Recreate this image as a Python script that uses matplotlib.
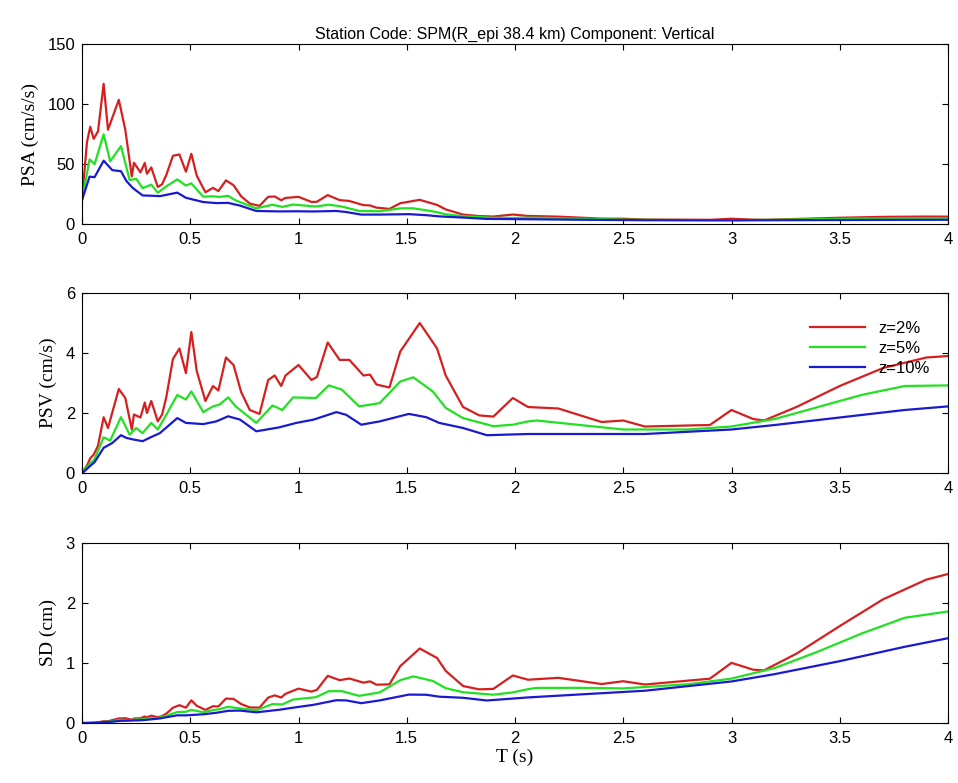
import numpy as np
import matplotlib
matplotlib.use("Agg")
import matplotlib.pyplot as plt

pga = [20.0, 20.0, 20.0]

T_red = [0.023,0.038,0.054,0.074,0.1,0.12,0.17,0.2,0.23,0.24,0.27,0.29,0.30,0.32,0.35,0.37,0.39,0.42,0.45,0.48,0.505,0.53,0.57,0.605,0.63,0.665,0.70,0.735,0.775,0.82,0.86,0.89,0.92,0.94,1.0,1.06,1.085,1.135,1.19,1.235,1.3,1.33,1.36,1.42,1.47,1.56,1.64,1.68,1.76,1.835,1.9,1.99,2.06,2.2,2.4,2.5,2.6,2.9,3.0,3.1,3.15,3.3,3.5,3.7,3.9,4.0]
V_red = [0.25,0.49,0.61,0.91,1.86,1.5,2.8,2.5,1.45,1.95,1.85,2.35,2.0,2.4,1.72,1.95,2.55,3.8,4.15,3.33,4.7,3.4,2.4,2.9,2.75,3.85,3.6,2.7,2.1,1.97,3.1,3.25,2.9,3.25,3.6,3.1,3.2,4.35,3.77,3.77,3.25,3.28,2.95,2.85,4.05,5.0,4.15,3.25,2.2,1.92,1.88,2.5,2.2,2.15,1.7,1.75,1.55,1.6,2.1,1.8,1.75,2.2,2.9,3.5,3.85,3.9]

T_grn = [0.035,0.058,0.1,0.13,0.18,0.22,0.25,0.28,0.32,0.35,0.39,0.44,0.48,0.505,0.56,0.605,0.635,0.675,0.71,0.805,0.88,0.925,0.975,1.08,1.14,1.2,1.28,1.375,1.47,1.53,1.62,1.68,1.76,1.9,1.99,2.06,2.1,2.3,2.5,2.8,3.0,3.2,3.4,3.6,3.8,4.0]
V_grn = [0.30,0.46,1.19,1.08,1.86,1.28,1.5,1.33,1.67,1.45,1.95,2.6,2.45,2.72,2.03,2.22,2.28,2.52,2.22,1.67,2.25,2.1,2.52,2.5,2.92,2.78,2.22,2.33,3.05,3.19,2.72,2.17,1.83,1.56,1.61,1.72,1.75,1.6,1.45,1.45,1.55,1.8,2.2,2.6,2.9,2.92]

T_blu = [0.005,0.035,0.058,0.1,0.14,0.18,0.205,0.235,0.28,0.32,0.36,0.44,0.48,0.56,0.62,0.675,0.73,0.805,0.91,0.99,1.07,1.175,1.22,1.29,1.375,1.51,1.59,1.65,1.76,1.87,2.06,2.3,2.6,3.0,3.2,3.5,3.8,4.0]
V_blu = [0.018,0.22,0.36,0.84,1.0,1.26,1.17,1.12,1.06,1.2,1.33,1.83,1.67,1.63,1.72,1.89,1.78,1.39,1.52,1.67,1.78,2.03,1.94,1.61,1.72,1.97,1.86,1.67,1.5,1.26,1.3,1.3,1.3,1.45,1.6,1.85,2.1,2.22]

labels = ['z=2%', 'z=5%', 'z=10%']
colors = ['#d62020', '#22e022', '#1a1ad0']
series = [(T_red, V_red), (T_grn, V_grn), (T_blu, V_blu)]

fig = plt.figure(figsize=(9.58, 7.83), dpi=100)
W, H = 958, 783
def ax_at(top, bot):
    return fig.add_axes([82/W, 1-bot/H, (948-82)/W, (bot-top)/H])
ax1 = ax_at(44, 224); ax2 = ax_at(293, 473); ax3 = ax_at(543, 723)

for (T, V), c, lab, g in zip(series, colors, labels, pga):
    T = np.array(T); V = np.array(V)
    psa = 2*np.pi*V/T
    ax1.plot(np.r_[0, T], np.r_[g, psa], color=c, lw=1.6)
    ax2.plot(np.r_[0, T], np.r_[0, V], color=c, lw=1.6, label=lab)
    ax3.plot(np.r_[0, T], np.r_[0, V*T/(2*np.pi)], color=c, lw=1.6)

serif = 'Liberation Serif'
for ax, yl, ylab in [(ax1, (0,150), 'PSA (cm/s/s)'), (ax2, (0,6), 'PSV (cm/s)'), (ax3, (0,3), 'SD (cm)')]:
    ax.set_xlim(0, 4); ax.set_ylim(*yl)
    ax.set_xticks(np.arange(0, 4.01, 0.5))
    ax.set_xticklabels(['0','0.5','1','1.5','2','2.5','3','3.5','4'])
    ax.tick_params(direction='in', top=True, right=True, labelsize=12, length=4)
    ax.tick_params(axis='x', pad=6)
    ax.tick_params(axis='y', pad=5)
    ax.set_ylabel(ylab, fontfamily=serif, fontsize=14, labelpad=6)
ax1.set_yticks([0,50,100,150]); ax2.set_yticks([0,2,4,6]); ax3.set_yticks([0,1,2,3])
for ax in (ax1, ax2, ax3):
    for t in ax.get_xticklabels()+ax.get_yticklabels():
        t.set_fontfamily('Liberation Sans')
ax1.set_title('Station Code: SPM(R_epi 38.4 km) Component: Vertical', fontfamily='Liberation Sans', fontsize=11.5, pad=4)
ax3.set_xlabel('T (s)', fontfamily=serif, fontsize=14, labelpad=2)
ax2.legend(loc='upper right', frameon=False, prop={'family':'Liberation Sans','size':12},
           handlelength=3.3, borderaxespad=0.2, labelspacing=0.3, bbox_to_anchor=(0.99, 0.9))
fig.savefig('out.png', dpi=100)
